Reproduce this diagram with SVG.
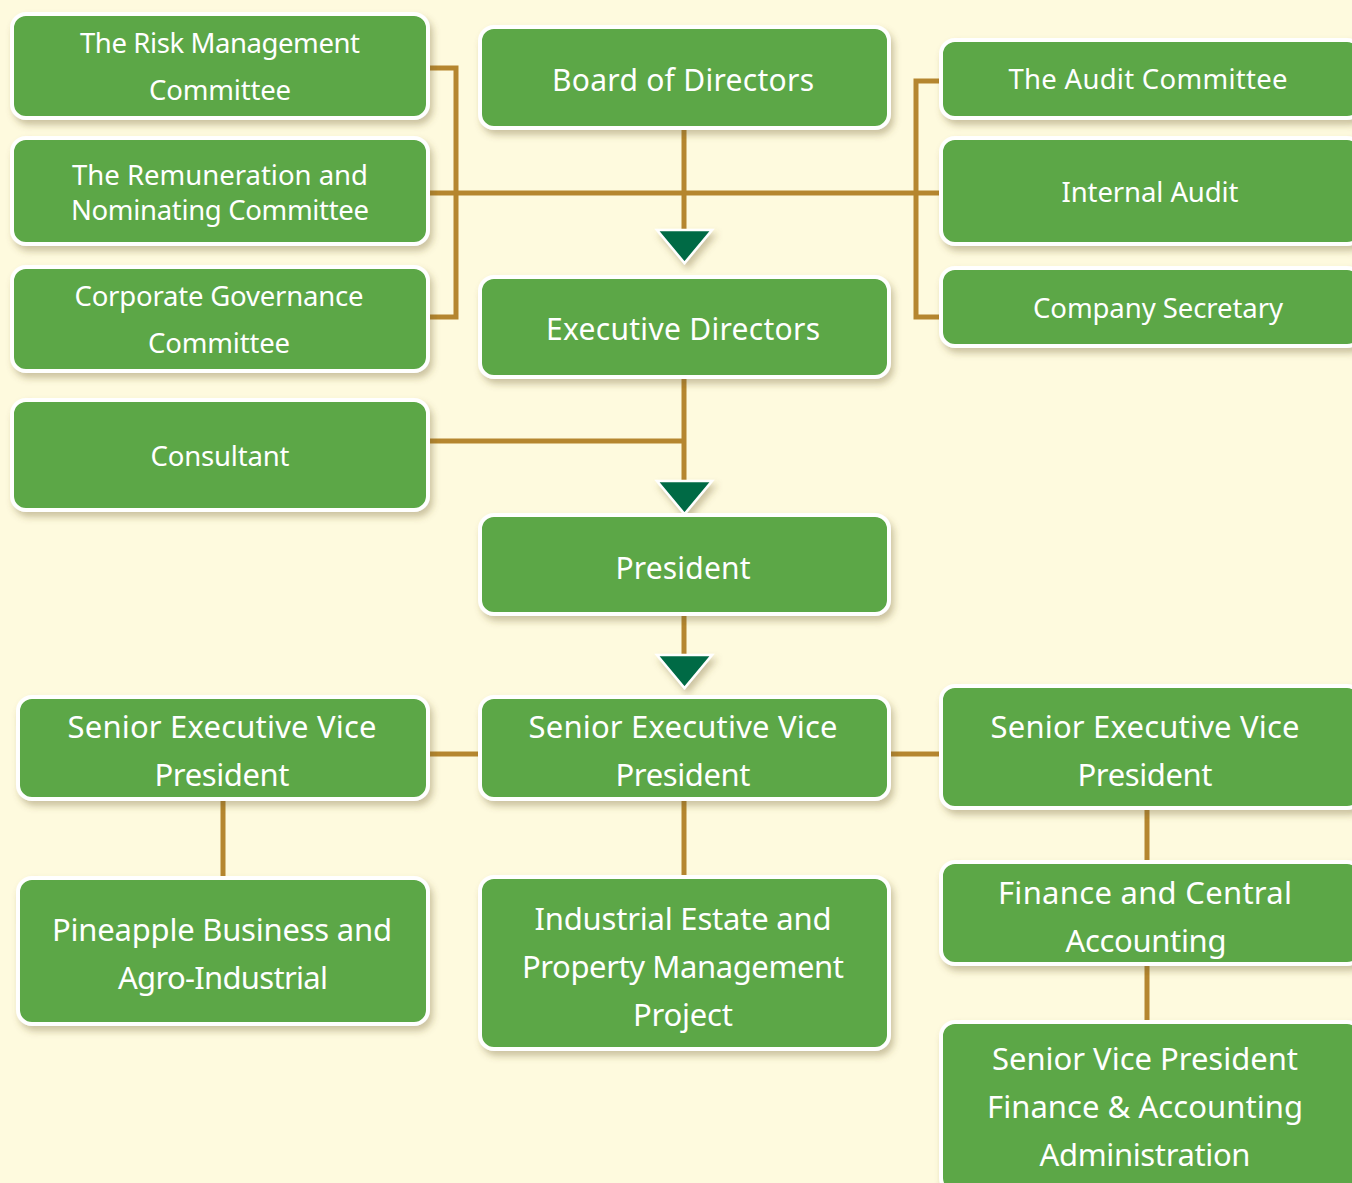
<svg xmlns="http://www.w3.org/2000/svg" width="1352" height="1183" viewBox="0 0 1352 1183">
  <defs>
    <filter id="shadow" x="-10%" y="-20%" width="130%" height="150%">
      <feDropShadow dx="3" dy="5" stdDeviation="3.5" flood-color="#6b5a2a" flood-opacity="0.35"/>
    </filter>
    <style>
      .box { fill: #5ba746; stroke: #ffffff; stroke-width: 4; filter: url(#shadow); }
      .lbl { fill: #ffffff; font-family: "Noto Sans", "Open Sans", sans-serif; text-anchor: middle; }
      .s26 { font-size: 27.5px; }
      .s29 { font-size: 30px; }
      .s31 { font-size: 31px; }
      .conn { fill: none; stroke: #b5862f; stroke-width: 5; }
      .arrow { fill: #006b45; stroke: #ffffff; stroke-width: 2.5; filter: url(#shadow); }
    </style>
  </defs>

  <rect width="1352" height="1183" fill="#fefade"/>

  <!-- connectors -->
  <g id="connectors">
    <!-- left committee bracket -->
    <polyline class="conn" points="428,68 456,68 456,317 428,317"/>
    <!-- right committee bracket -->
    <polyline class="conn" points="941,81 916,81 916,317 941,317"/>
    <!-- cross bar through committees -->
    <line class="conn" x1="428" y1="193" x2="941" y2="193"/>
    <!-- board to executive directors -->
    <line class="conn" x1="684" y1="128" x2="684" y2="236"/>
    <!-- executive directors to president -->
    <line class="conn" x1="684" y1="377" x2="684" y2="486"/>
    <line class="conn" x1="428" y1="441" x2="684" y2="441"/>
    <!-- president to senior executive vice presidents -->
    <line class="conn" x1="684" y1="614" x2="684" y2="660"/>
    <line class="conn" x1="428" y1="754" x2="480" y2="754"/>
    <line class="conn" x1="889" y1="754" x2="941" y2="754"/>
    <!-- down to business units -->
    <line class="conn" x1="223" y1="799" x2="223" y2="878"/>
    <line class="conn" x1="684" y1="799" x2="684" y2="877"/>
    <line class="conn" x1="1147" y1="808" x2="1147" y2="862"/>
    <line class="conn" x1="1147" y1="964" x2="1147" y2="1022"/>
    <!-- arrowheads -->
    <polygon class="arrow" points="657,230 712,230 684.5,263"/>
    <polygon class="arrow" points="657,481 712,481 684.5,514"/>
    <polygon class="arrow" points="657,655 712,655 684.5,688"/>
  </g>

  <!-- left column -->
  <g id="risk-committee">
    <rect class="box" x="12" y="14" width="416" height="104" rx="14"/>
    <text class="lbl s26" x="220" y="53" textLength="280">The Risk Management</text>
    <text class="lbl s26" x="220" y="100" textLength="142">Committee</text>
  </g>
  <g id="remuneration-committee">
    <rect class="box" x="12" y="138" width="416" height="106" rx="14"/>
    <text class="lbl s26" x="220" y="185" textLength="296">The Remuneration and</text>
    <text class="lbl s26" x="220" y="220" textLength="298">Nominating Committee</text>
  </g>
  <g id="governance-committee">
    <rect class="box" x="12" y="267" width="416" height="104" rx="14"/>
    <text class="lbl s26" x="219" y="306" textLength="289">Corporate Governance</text>
    <text class="lbl s26" x="219" y="353" textLength="142">Committee</text>
  </g>
  <g id="consultant">
    <rect class="box" x="12" y="400" width="416" height="110" rx="14"/>
    <text class="lbl s26" x="220" y="466" textLength="139">Consultant</text>
  </g>

  <!-- centre column -->
  <g id="board">
    <rect class="box" x="480" y="27" width="409" height="101" rx="14"/>
    <text class="lbl s29" x="683" y="91" textLength="262">Board of Directors</text>
  </g>
  <g id="executive-directors">
    <rect class="box" x="480" y="277" width="409" height="100" rx="14"/>
    <text class="lbl s29" x="683" y="340" textLength="274">Executive Directors</text>
  </g>
  <g id="president">
    <rect class="box" x="480" y="515" width="409" height="99" rx="14"/>
    <text class="lbl s29" x="683" y="579" textLength="135">President</text>
  </g>

  <!-- right column -->
  <g id="audit-committee">
    <rect class="box" x="941" y="40" width="420" height="78" rx="14"/>
    <text class="lbl s26" x="1148" y="89" textLength="279">The Audit Committee</text>
  </g>
  <g id="internal-audit">
    <rect class="box" x="941" y="138" width="420" height="106" rx="14"/>
    <text class="lbl s26" x="1150" y="202" textLength="177">Internal Audit</text>
  </g>
  <g id="company-secretary">
    <rect class="box" x="941" y="268" width="420" height="78" rx="14"/>
    <text class="lbl s26" x="1158" y="318" textLength="250">Company Secretary</text>
  </g>

  <!-- senior executive vice presidents -->
  <g id="sevp-left">
    <rect class="box" x="18" y="697" width="410" height="102" rx="14"/>
    <text class="lbl s31" x="222" y="738" textLength="309">Senior Executive Vice</text>
    <text class="lbl s31" x="222" y="786" textLength="135">President</text>
  </g>
  <g id="sevp-centre">
    <rect class="box" x="480" y="697" width="409" height="102" rx="14"/>
    <text class="lbl s31" x="683" y="738" textLength="309">Senior Executive Vice</text>
    <text class="lbl s31" x="683" y="786" textLength="135">President</text>
  </g>
  <g id="sevp-right">
    <rect class="box" x="941" y="686" width="420" height="122" rx="14"/>
    <text class="lbl s31" x="1145" y="738" textLength="309">Senior Executive Vice</text>
    <text class="lbl s31" x="1145" y="786" textLength="135">President</text>
  </g>

  <!-- business units -->
  <g id="pineapple">
    <rect class="box" x="18" y="878" width="410" height="146" rx="14"/>
    <text class="lbl s31" x="222" y="941" textLength="340">Pineapple Business and</text>
    <text class="lbl s31" x="223" y="989" textLength="210">Agro-Industrial</text>
  </g>
  <g id="industrial-estate">
    <rect class="box" x="480" y="877" width="409" height="172" rx="14"/>
    <text class="lbl s31" x="683" y="930" textLength="297">Industrial Estate and</text>
    <text class="lbl s31" x="683" y="978" textLength="322">Property Management</text>
    <text class="lbl s31" x="683" y="1026" textLength="100">Project</text>
  </g>
  <g id="finance-central">
    <rect class="box" x="941" y="862" width="420" height="102" rx="14"/>
    <text class="lbl s31" x="1145" y="904" textLength="294">Finance and Central</text>
    <text class="lbl s31" x="1146" y="952" textLength="161">Accounting</text>
  </g>
  <g id="svp-finance">
    <rect class="box" x="941" y="1022" width="420" height="170" rx="14"/>
    <text class="lbl s31" x="1145" y="1070" textLength="306">Senior Vice President</text>
    <text class="lbl s31" x="1145" y="1118" textLength="316">Finance &amp; Accounting</text>
    <text class="lbl s31" x="1145" y="1166" textLength="211">Administration</text>
  </g>
</svg>
